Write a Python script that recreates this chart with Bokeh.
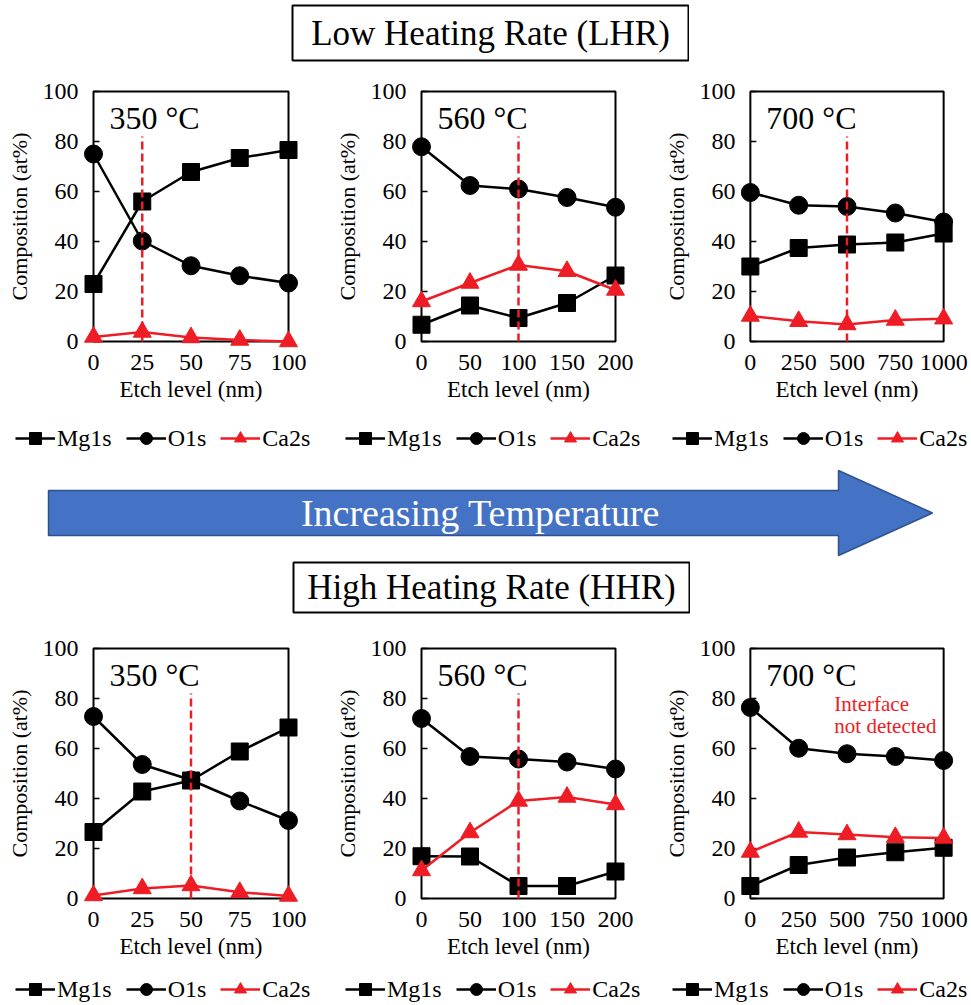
from bokeh.plotting import figure
from bokeh.models import (FixedTicker, LinearAxis, Range1d, Label, Legend,
                          LegendItem, ColumnDataSource, Spacer)
from bokeh.layouts import column, row
from bokeh.embed import file_html
from bokeh.resources import INLINE

FONT = "Liberation Serif"
RED = "#EE1C25"
BLACK = "#000000"

# ---------------- data ----------------
series_names = ["Mg1s", "O1s", "Ca2s"]
y_ticks = [0, 20, 40, 60, 80, 100]

lhr_temps = ["350 \u00b0C", "560 \u00b0C", "700 \u00b0C"]
hhr_temps = ["350 \u00b0C", "560 \u00b0C", "700 \u00b0C"]

etch_350 = [0, 25, 50, 75, 100]
etch_560 = [0, 50, 100, 150, 200]
etch_700 = [0, 250, 500, 750, 1000]

lhr_350_mg = [23.0, 56.0, 67.8, 73.4, 76.6]
lhr_350_o = [75.0, 40.2, 30.3, 26.3, 23.4]
lhr_350_ca = [1.8, 3.8, 1.6, 0.6, 0.0]

lhr_560_mg = [6.7, 14.4, 9.4, 15.4, 26.4]
lhr_560_o = [77.9, 62.4, 61.0, 57.6, 53.7]
lhr_560_ca = [16.0, 23.4, 30.6, 28.1, 20.6]

lhr_700_mg = [30.0, 37.4, 38.8, 39.6, 43.2]
lhr_700_o = [59.6, 54.5, 54.0, 51.4, 47.8]
lhr_700_ca = [10.2, 8.1, 6.8, 8.6, 9.1]

hhr_350_mg = [26.6, 42.8, 47.2, 58.8, 68.4]
hhr_350_o = [72.8, 53.6, 47.4, 39.0, 31.2]
hhr_350_ca = [1.2, 4.0, 5.2, 2.5, 1.0]

hhr_560_mg = [16.9, 16.8, 5.0, 5.0, 10.8]
hhr_560_o = [72.0, 56.8, 55.8, 54.6, 51.8]
hhr_560_ca = [11.2, 26.4, 39.0, 40.6, 37.6]

hhr_700_mg = [5.0, 13.4, 16.4, 18.5, 20.3]
hhr_700_o = [76.4, 60.1, 57.9, 56.8, 55.2]
hhr_700_ca = [18.6, 26.6, 25.6, 24.5, 24.2]

lhr_interface = [25, 100, 500]
hhr_interface = [50, 100, None]
interface_top = 82

# ---------------- styling / layout ----------------
PAD = 10
BOX_H = 250
COLS = [(330, 93, 195), (330, 91, 194), (311, 87, 196)]  # fig width, box left, box width
SERIES_STYLE = [("square", 17, BLACK), ("circle", 18, BLACK), ("triangle", 18, RED)]
LW = 2.5


def hide_grids(p):
    p.xgrid.visible = False
    p.ygrid.visible = False


def make_panel(xs, mg, o, ca, temp, iface, col, fig_h, mbt, note=False):
    fw, box_left, box_w = COLS[col]
    xmax = xs[-1]
    padx = PAD * xmax / box_w
    pady = PAD * 100 / BOX_H
    frame_left = box_left - PAD
    frame_w = box_w + 2 * PAD
    p = figure(width=fw, height=fig_h,
               x_range=Range1d(-padx, xmax + padx),
               y_range=Range1d(-pady, 100 + pady),
               output_backend="svg", toolbar_location=None,
               x_axis_location=None, y_axis_location=None,
               min_border_left=frame_left,
               min_border_right=fw - frame_left - frame_w,
               min_border_top=mbt,
               min_border_bottom=fig_h - mbt - (BOX_H + 2 * PAD),
               outline_line_color=None)
    hide_grids(p)

    yax = LinearAxis(ticker=FixedTicker(ticks=y_ticks), axis_label="Composition (at%)",
                     major_tick_in=0, major_tick_out=0, minor_tick_line_color=None,
                     axis_line_color=None, major_label_standoff=5,
                     axis_label_standoff=8)
    yax.major_label_text_font = FONT
    yax.major_label_text_font_size = "24px"
    yax.major_label_text_color = BLACK
    yax.axis_label_text_font = FONT
    yax.axis_label_text_font_size = "22px"
    yax.axis_label_text_font_style = "normal"
    yax.axis_label_text_color = BLACK
    p.add_layout(yax, "left")

    xax = LinearAxis(ticker=FixedTicker(ticks=xs), axis_label="Etch level (nm)",
                     major_tick_in=0, major_tick_out=0, minor_tick_line_color=None,
                     axis_line_color=None, major_label_standoff=3,
                     axis_label_standoff=4)
    xax.major_label_text_font = FONT
    xax.major_label_text_font_size = "24px"
    xax.major_label_text_color = BLACK
    xax.axis_label_text_font = FONT
    xax.axis_label_text_font_size = "23px"
    xax.axis_label_text_font_style = "normal"
    xax.axis_label_text_color = BLACK
    p.add_layout(xax, "below")

    # plot box and inward y ticks (at the axis tick values)
    p.quad(left=[0], right=[xmax], bottom=[0], top=[100], fill_color=None,
           line_color=BLACK, line_width=2)
    p.ray(x=[0] * len(y_ticks), y=y_ticks, length=6, length_units="screen",
          angle=0, line_color=BLACK, line_width=1.5)

    for vals, (marker, size, color) in zip([mg, o, ca], SERIES_STYLE):
        src = ColumnDataSource(dict(x=xs, y=vals))
        p.line("x", "y", source=src, line_color=color, line_width=LW)
        p.scatter("x", "y", source=src, marker=marker, size=size,
                  fill_color=color, line_color=color)

    if iface is not None:
        p.segment(x0=[iface], y0=[0], x1=[iface], y1=[interface_top],
                  line_color=RED, line_width=LW, line_dash="8 4")

    p.add_layout(Label(x=0, y=100, x_offset=16, y_offset=-26, text=temp,
                       text_font=FONT, text_font_size="32px", text_color=BLACK,
                       text_align="left", text_baseline="middle"))
    if note:
        p.add_layout(Label(x=0, y=100, x_offset=84, y_offset=-55, text="Interface",
                           text_font=FONT, text_font_size="21px", text_color=RED,
                           text_align="left", text_baseline="middle"))
        p.add_layout(Label(x=0, y=100, x_offset=84, y_offset=-77, text="not detected",
                           text_font=FONT, text_font_size="21px", text_color=RED,
                           text_align="left", text_baseline="middle"))
    return p


def make_legend_fig(height, positions, vy):
    p = figure(width=971, height=height, x_range=Range1d(0, 1), y_range=Range1d(0, 1),
               output_backend="svg", toolbar_location=None, min_border=0,
               x_axis_location=None, y_axis_location=None, outline_line_color=None)
    hide_grids(p)
    nan = float("nan")
    for x0 in positions:
        items = []
        for name, (marker, size, color) in zip(series_names, SERIES_STYLE):
            src = ColumnDataSource(dict(x=[nan], y=[nan]))
            lr = p.line("x", "y", source=src, line_color=color, line_width=LW)
            sr = p.scatter("x", "y", source=src, marker=marker, size=size,
                           fill_color=color, line_color=color)
            items.append(LegendItem(label=name, renderers=[lr, sr]))
        leg = Legend(items=items, location=(x0, vy), orientation="horizontal",
                     glyph_width=40, glyph_height=30, label_standoff=2, spacing=14,
                     padding=0, margin=0, border_line_color=None,
                     background_fill_alpha=0, label_text_font=FONT,
                     label_text_font_size="24px", label_text_color=BLACK)
        p.add_layout(leg, "center")
    return p


def make_title_fig(text, w, h, top, bottom):
    p = figure(width=w, height=h, x_range=Range1d(0, 1), y_range=Range1d(0, 1),
               output_backend="svg", toolbar_location=None,
               min_border_left=1, min_border_right=1,
               min_border_top=top, min_border_bottom=bottom,
               x_axis_location=None, y_axis_location=None,
               outline_line_color=BLACK, outline_line_width=2)
    hide_grids(p)
    p.add_layout(Label(x=0.5, y=0.5, text=text, text_align="center",
                       text_baseline="middle", text_font=FONT,
                       text_font_size="35px", text_color=BLACK))
    return p


def make_arrow_fig():
    p = figure(width=971, height=102, x_range=Range1d(0, 971), y_range=Range1d(0, 102),
               output_backend="svg", toolbar_location=None, min_border=0,
               x_axis_location=None, y_axis_location=None, outline_line_color=None)
    hide_grids(p)
    p.patch(x=[48, 838, 838, 932, 838, 838, 48], y=[68, 68, 88, 45.5, 3, 23, 23],
            fill_color="#4472C4", line_color="#2F528F", line_width=1.5)
    p.add_layout(Label(x=480, y=45.5, text="Increasing Temperature", text_align="center",
                       text_baseline="middle", text_font=FONT,
                       text_font_size="38px", text_color="white"))
    return p


lhr_data = [(etch_350, lhr_350_mg, lhr_350_o, lhr_350_ca),
            (etch_560, lhr_560_mg, lhr_560_o, lhr_560_ca),
            (etch_700, lhr_700_mg, lhr_700_o, lhr_700_ca)]
hhr_data = [(etch_350, hhr_350_mg, hhr_350_o, hhr_350_ca),
            (etch_560, hhr_560_mg, hhr_560_o, hhr_560_ca),
            (etch_700, hhr_700_mg, hhr_700_o, hhr_700_ca)]

top_figs = [make_panel(*d, lhr_temps[i], lhr_interface[i], i, 358, 19)
            for i, d in enumerate(lhr_data)]
bot_figs = [make_panel(*d, hhr_temps[i], hhr_interface[i], i, 361, 24, note=(i == 2))
            for i, d in enumerate(hhr_data)]

legend_x = [15, 345, 672]

layout = column(
    row(Spacer(width=291, height=62), make_title_fig("Low Heating Rate (LHR)", 398, 62, 5, 2)),
    row(*top_figs),
    make_legend_fig(36, legend_x, 3),
    make_arrow_fig(),
    row(Spacer(width=292, height=56), make_title_fig("High Heating Rate (HHR)", 398, 56, 4, 2)),
    row(*bot_figs),
    make_legend_fig(29, legend_x, 0),
)

open("out.html", "w").write(file_html(layout, INLINE))
